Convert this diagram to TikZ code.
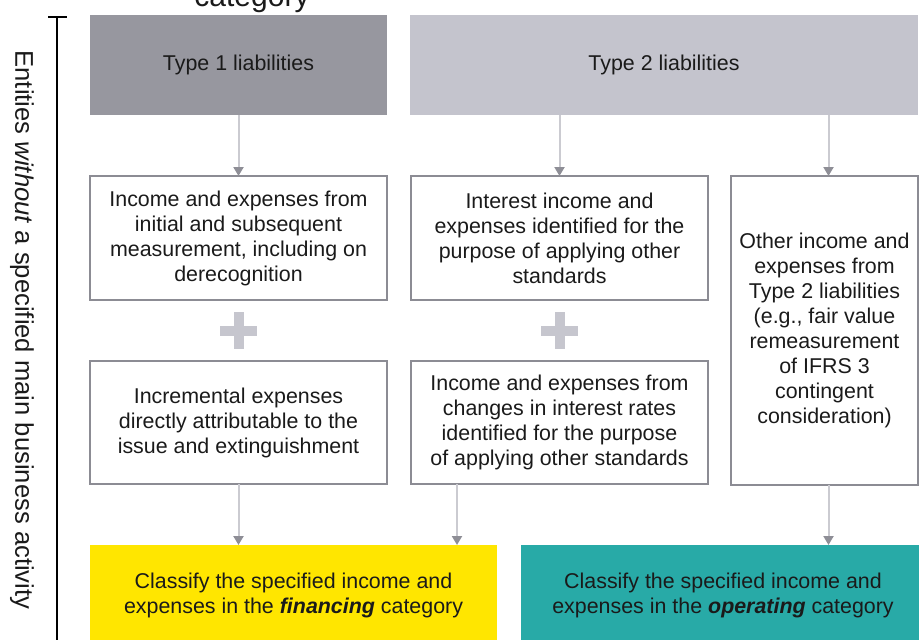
\documentclass[tikz,border=0pt]{standalone}
\usepackage{fontspec}
\setmainfont{Liberation Sans}
\usepackage{tikz}
\usetikzlibrary{arrows.meta,positioning}
\definecolor{eydark}{HTML}{97979F}
\definecolor{eylight}{HTML}{C4C4CD}
\definecolor{eyyellow}{HTML}{FFE600}
\definecolor{eyteal}{HTML}{28AAA7}
\definecolor{boxline}{HTML}{8C8C94}
\definecolor{arrowline}{HTML}{CBCBD1}
\definecolor{arrowtip}{HTML}{8E8E96}
\definecolor{plusgray}{HTML}{C6C6CE}
\definecolor{txt}{HTML}{1A1A1A}
\tikzset{
  box/.style={draw=boxline, line width=1pt, align=center, inner sep=0pt, outer sep=0pt,
    text=txt, font=\fontsize{10.7}{12.5}\selectfont},
  head/.style={box, draw=none},
  type1/.style={head, fill=eydark},
  type2/.style={head, fill=eylight},
  fin/.style={head, fill=eyyellow},
  opr/.style={head, fill=eyteal},
  arrow/.style={draw=arrowline, line width=1pt,
    -{Triangle[width=5pt, length=4.5pt, color=arrowtip]}},
  plus/.style={minimum size=18.5pt, inner sep=0pt, path picture={
    \fill[plusgray] ([yshift=-2.5pt]path picture bounding box.west)
      rectangle ([yshift=2.5pt]path picture bounding box.east);
    \fill[plusgray] ([xshift=-2.5pt]path picture bounding box.south)
      rectangle ([xshift=2.5pt]path picture bounding box.north);}},
  side/.style={text=txt, font=\fontsize{12.8}{15}\selectfont}
}

\begin{document}
\begin{tikzpicture}[x=0.5pt, y=-0.5pt]
    \clip (0,0) rectangle (919,639);

    % heading cut off at the top
    \node[side, font=\fontsize{15}{18}\selectfont, anchor=base] (cat) at (252,6) {category};

    % liability types
    \node[type1, minimum width=148.5pt, minimum height=50pt, anchor=north west] (t1) at (90,15) {Type 1 liabilities};
    \node[type2, minimum width=254pt, minimum height=50pt, right=11.5pt of t1] (t2) {Type 2 liabilities};

    % income and expenses
    \node[box, minimum width=148.5pt, minimum height=62pt, below=30.5pt of t1] (initial)
      {Income and expenses from\\ initial and subsequent\\ measurement, including on\\ derecognition};
    \node[box, minimum width=148.5pt, minimum height=62pt, right=12pt of initial] (interest)
      {Interest income and\\ expenses identified for the\\ purpose of applying other\\ standards};
    \node[box, minimum width=93.5pt, minimum height=154.5pt,
      right=11.5pt of interest.north east, anchor=north west] (other)
      {Other income and\\ expenses from\\ Type 2 liabilities\\ (e.g., fair value\\ remeasurement\\ of IFRS 3\\ contingent\\ consideration)};
    \node[box, minimum width=148.5pt, minimum height=61.5pt, below=30.5pt of initial] (incr)
      {Incremental expenses\\ directly attributable to the\\ issue and extinguishment};
    \node[box, minimum width=148.5pt, minimum height=61.5pt, right=12pt of incr] (rates)
      {Income and expenses from\\ changes in interest rates\\ identified for the purpose\\ of applying other standards};

    \path (initial) -- (incr) node[midway, plus] (plusA) {};
    \path (interest) -- (rates) node[midway, plus] (plusB) {};

    % classification
    \node[fin, minimum width=203.5pt, minimum height=50pt,
      below=30.5pt of incr.south west, anchor=north west] (fin)
      {Classify the specified income and\\ expenses in the \textbf{\textit{financing}} category};
    \node[opr, minimum width=202pt, minimum height=50pt, right=12pt of fin] (opr)
      {Classify the specified income and\\ expenses in the \textbf{\textit{operating}} category};

    \draw[arrow] (t1) -- (initial);
    \draw[arrow] (interest |- t2.south) -- (interest);
    \draw[arrow] ([xshift=2pt]other.north |- t2.south) -- ([xshift=2pt]other.north);
    \draw[arrow] (incr) -- (incr |- fin.north);
    \coordinate (finB) at ([xshift=-20pt]fin.north east);
    \draw[arrow] (finB |- rates.south) -- (finB);
    \draw[arrow] ([xshift=2pt]other.south) -- ([xshift=2pt]other.south |- opr.north);

    % side bracket
    \node[side, rotate=-90] (scope) at (22,330) {Entities \textit{without} a specified main business activity};
    \draw[line width=1pt] (48,17) -- (67,17);
    \draw[line width=1pt] (57,17) -- (57,645);
\end{tikzpicture}
\end{document}
